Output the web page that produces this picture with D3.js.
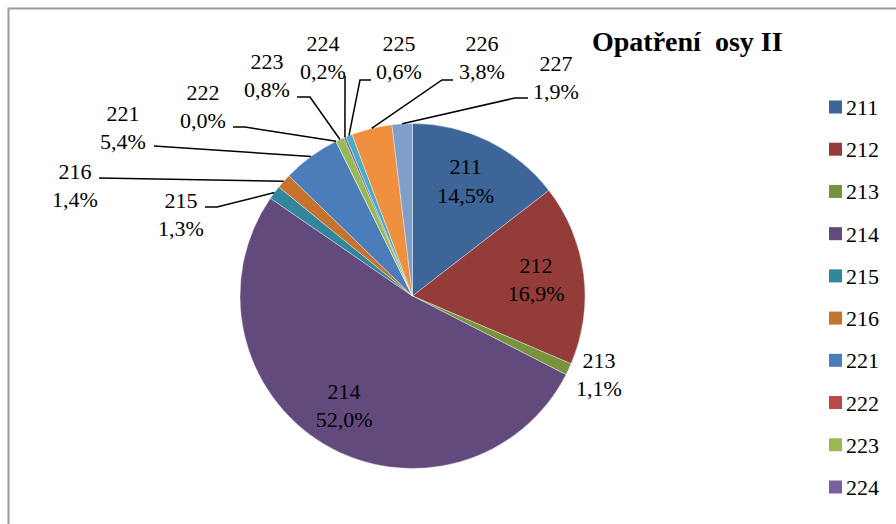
<!DOCTYPE html>
<html>
<head>
<meta charset="utf-8">
<script src="https://cdn.jsdelivr.net/npm/d3@7"></script>
<style>
  body { margin: 0; background: #fff; }
  svg { display: block; font-family: "Liberation Serif", "Times New Roman", serif; }
</style>
</head>
<body>
<svg id="chart" width="896" height="524"></svg>
<script>
// data
let codes = ["211", "212", "213", "214", "215", "216", "221", "222", "223", "224", "225", "226", "227"]
let shares = [14.5, 16.9, 1.1, 52.0, 1.3, 1.4, 5.4, 0.0, 0.8, 0.2, 0.6, 3.8, 1.9]
let colors = ["#3d6598", "#943c39", "#77933c", "#624b7c", "#31859c", "#c6732f",
              "#4a7dba", "#b94a47", "#98b954", "#7a5e9e", "#4aabc5", "#f0903f", "#7f9fcb"]
let legendCodes = codes.slice(0, 10)   // legend is cut off at the bottom
let insideCodes = ["211", "212", "214"]

// label layout for the outside labels: text center x, first baseline, leader start, elbow x
let labelLayout = {
  "213": { x: 599, y: 368 },
  "215": { x: 181, y: 208, lx: 205, ly: 207, ex: 217 },
  "216": { x: 75, y: 179, lx: 99, ly: 178 },
  "221": { x: 123, y: 121, lx: 154, ly: 146 },
  "222": { x: 203, y: 100, lx: 233, ly: 127, ex: 245 },
  "223": { x: 267, y: 69, lx: 297, ly: 97, ex: 310 },
  "224": { x: 323, y: 51, lx: 345, ly: 76 },
  "225": { x: 399, y: 51, lx: 371, ly: 80, ex: 360 },
  "226": { x: 482, y: 51, lx: 453, ly: 80, ex: 442 },
  "227": { x: 556, y: 71, lx: 528, ly: 98, ex: 515 }
}

let svg = d3.select("#chart")

// outer frame of the chart area (runs off the right and bottom)
svg.append("rect")
  .attr("x", 8.5).attr("y", 8.5)
  .attr("width", 1000).attr("height", 1000)
  .attr("fill", "none")
  .attr("stroke", "#9c9c9c")
  .attr("stroke-width", 2)

svg.append("text")
  .attr("x", 592).attr("y", 51)
  .attr("font-size", 28)
  .attr("font-weight", "bold")
  .style("white-space", "pre")
  .text("Opatření  osy II")

let cx = 412.5
let cy = 296
let radius = 172.5

let data = codes.map((c, i) => ({ code: c, value: shares[i] }))
let color = d3.scaleOrdinal().domain(codes).range(colors)

let pie = d3.pie().sort(null).value(d => d.value)
let arcs = pie(data)
let arc = d3.arc().innerRadius(0).outerRadius(radius)
let edgeArc = d3.arc().innerRadius(radius).outerRadius(radius)
let labelArc = d3.arc().innerRadius(radius * 0.74).outerRadius(radius * 0.74)

let g = svg.append("g").attr("transform", `translate(${cx},${cy})`)

g.selectAll("path.slice")
  .data(arcs)
  .enter()
  .append("path")
  .attr("class", "slice")
  .attr("d", arc)
  .attr("fill", d => color(d.data.code))
  .attr("stroke", "#ffffff")
  .attr("stroke-opacity", 0.6)
  .attr("stroke-width", 0.6)

function fmt(v) {
  return v.toFixed(1).replace(".", ",") + "%"
}

// labels inside the big slices
let inside = g.selectAll("text.inside")
  .data(arcs.filter(d => insideCodes.includes(d.data.code)))
  .enter()
  .append("text")
  .attr("class", "inside")
  .attr("text-anchor", "middle")
  .attr("font-size", 22)
  .attr("fill", "#000")
  .attr("transform", d => {
    let c = labelArc.centroid(d)
    return `translate(${c[0] - 3},${c[1] - 7})`
  })
inside.append("tspan").attr("x", 0).attr("y", 0).text(d => d.data.code)
inside.append("tspan").attr("x", 0).attr("y", 28.5).text(d => fmt(d.data.value))

// leader lines
let outside = arcs.filter(d => !insideCodes.includes(d.data.code))
svg.selectAll("path.leader")
  .data(outside.filter(d => labelLayout[d.data.code].lx != null))
  .enter()
  .append("path")
  .attr("class", "leader")
  .attr("fill", "none")
  .attr("stroke", "#000")
  .attr("stroke-width", 1.5)
  .attr("d", d => {
    let p = labelLayout[d.data.code]
    let e = edgeArc.centroid(d)
    let path = d3.path()
    path.moveTo(p.lx, p.ly)
    if (p.ex != null) path.lineTo(p.ex, p.ly)
    path.lineTo(cx + e[0], cy + e[1])
    return path.toString()
  })

let outText = svg.selectAll("text.outside")
  .data(outside)
  .enter()
  .append("text")
  .attr("class", "outside")
  .attr("text-anchor", "middle")
  .attr("font-size", 22)
  .attr("fill", "#000")
outText.append("tspan")
  .attr("x", d => labelLayout[d.data.code].x)
  .attr("y", d => labelLayout[d.data.code].y)
  .text(d => d.data.code)
outText.append("tspan")
  .attr("x", d => labelLayout[d.data.code].x)
  .attr("y", d => labelLayout[d.data.code].y + 28)
  .text(d => fmt(d.data.value))

// legend
let legendY = d3.scalePoint().domain(legendCodes).range([107, 487])
let legend = svg.selectAll("g.legend")
  .data(legendCodes)
  .enter()
  .append("g")
  .attr("class", "legend")
  .attr("transform", d => `translate(829,${legendY(d)})`)
legend.append("rect")
  .attr("x", 0).attr("y", -6.5)
  .attr("width", 13).attr("height", 13)
  .attr("fill", d => color(d))
legend.append("text")
  .attr("x", 17).attr("y", 8)
  .attr("font-size", 22)
  .text(d => d)
</script>
</body>
</html>
